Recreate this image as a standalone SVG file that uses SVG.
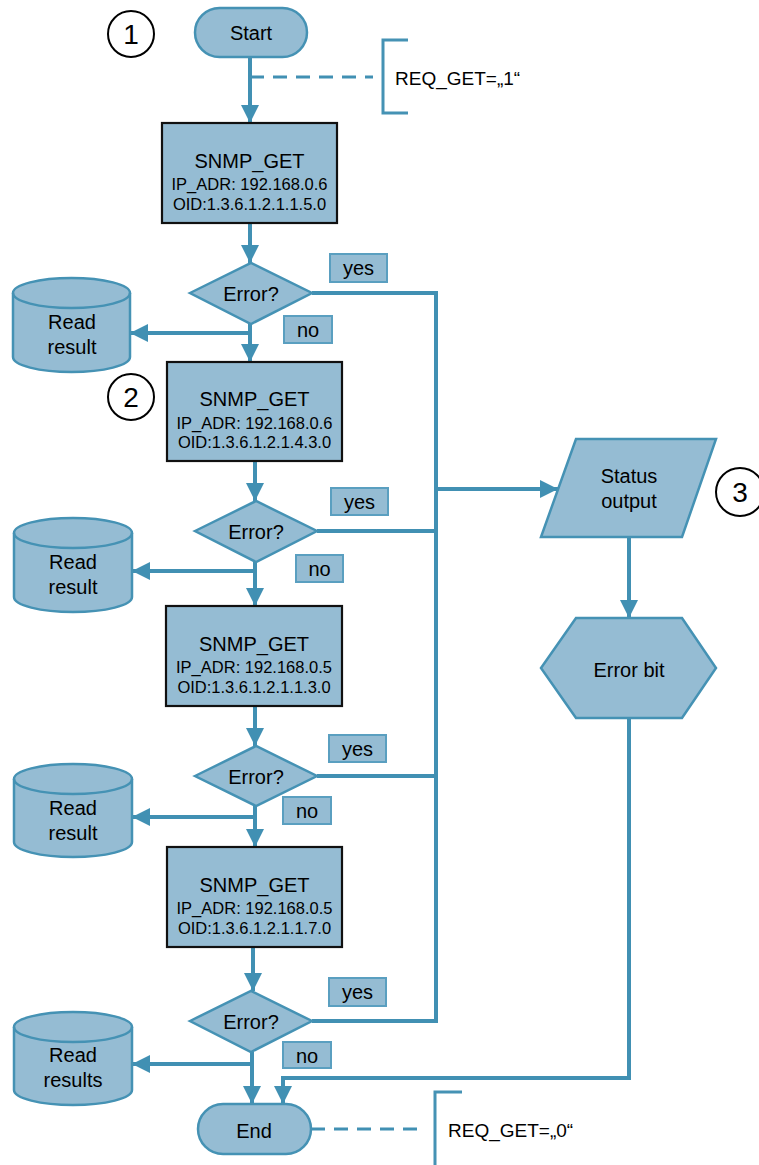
<svg xmlns="http://www.w3.org/2000/svg" width="759" height="1165" viewBox="0 0 759 1165">
<style>
text{font-family:"Liberation Sans",Arial,sans-serif;fill:#000;text-anchor:middle}
.t20{font-size:20px}
.t16{font-size:16.5px}
.num{font-size:28px}
.shape{fill:#95bcd3;stroke:#4592b4;stroke-width:2.5}
.box{fill:#95bcd3;stroke:#111;stroke-width:2.2}
.lbl{fill:#95bcd3;stroke:#5a9fc0;stroke-width:2}
.conn{fill:none;stroke:#4190b3;stroke-width:4}
.arr{fill:none;stroke:#4190b3;stroke-width:4;marker-end:url(#ah)}
.dash{fill:none;stroke:#4190b3;stroke-width:3;stroke-dasharray:14 9}
.brk{fill:none;stroke:#4592b4;stroke-width:3}
.circ{fill:#fff;stroke:#000;stroke-width:2}
</style>
<defs>
<marker id="ah" markerUnits="userSpaceOnUse" markerWidth="20" markerHeight="20" refX="18" refY="9" orient="auto" viewBox="0 0 20 20">
<path d="M0,0 L18,9 L0,18 Z" fill="#4190b3"/>
</marker>
</defs>

<g id="connectors">
<path class="arr" d="M250,57 V123"/>
<path class="dash" d="M250,77 H373"/>
<path class="arr" d="M250,223 V263"/>
<path class="conn" d="M312,293 H436 V1021 H312"/>
<path class="conn" d="M317,531 H436"/>
<path class="conn" d="M317,776 H436"/>
<path class="arr" d="M436,489 H558"/>
<path class="arr" d="M250,324 V362"/>
<path class="arr" d="M250,333 H130"/>
<path class="arr" d="M255,461 V501"/>
<path class="arr" d="M255,562 V606"/>
<path class="arr" d="M255,571 H132"/>
<path class="arr" d="M255,706 V746"/>
<path class="arr" d="M255,806 V847"/>
<path class="arr" d="M255,817 H132"/>
<path class="arr" d="M253,947 V991"/>
<path class="arr" d="M252,1052 V1104"/>
<path class="arr" d="M252,1064 H132"/>
<path class="arr" d="M629,537 V618"/>
<path class="arr" d="M629,718 V1078 H283 V1104"/>
<path class="dash" d="M311,1129 H426"/>
</g>

<g id="marker1">
<circle class="circ" cx="131" cy="34" r="23"/>
<text class="num" x="131" y="44">1</text>
</g>

<g id="start">
<rect class="shape" x="195" y="8" width="112" height="49" rx="24.5"/>
<text class="t20" x="251" y="40">Start</text>
</g>

<g id="note1">
<path class="brk" d="M408,40 H383 V113 H408"/>
<text x="395" y="85" style="font-size:19px;text-anchor:start">REQ_GET=„1“</text>
</g>

<g id="get1">
<rect class="box" x="162" y="123" width="175" height="100"/>
<text class="t20" x="249.5" y="168">SNMP_GET</text>
<text class="t16" x="249.5" y="190">IP_ADR: 192.168.0.6</text>
<text class="t16" x="249.5" y="210">OID:1.3.6.1.2.1.1.5.0</text>
</g>

<g id="dec1">
<polygon class="shape" points="190,293 251,263 312,293 251,324"/>
<text class="t20" x="251" y="301">Error?</text>
</g>
<g id="yes1"><rect class="lbl" x="330" y="254" width="57" height="28"/><text class="t20" x="358.5" y="275">yes</text></g>
<g id="no1"><rect class="lbl" x="284" y="316" width="48" height="27"/><text class="t20" x="308" y="337">no</text></g>

<g id="read1">
<path class="shape" d="M13,293 A58.5,15 0 0 1 130,293 V357 A58.5,15 0 0 1 13,357 Z"/>
<path class="shape" style="fill:none" d="M13,293 A58.5,15 0 0 0 130,293"/>
<text class="t20" x="72" y="329">Read</text>
<text class="t20" x="72" y="354">result</text>
</g>

<g id="marker2">
<circle class="circ" cx="131" cy="397" r="23"/>
<text class="num" x="131" y="407">2</text>
</g>

<g id="get2">
<rect class="box" x="167" y="362" width="175" height="99"/>
<text class="t20" x="254.5" y="406">SNMP_GET</text>
<text class="t16" x="254.5" y="429">IP_ADR: 192.168.0.6</text>
<text class="t16" x="254.5" y="448">OID:1.3.6.1.2.1.4.3.0</text>
</g>

<g id="dec2">
<polygon class="shape" points="195,531 256,501 317,531 256,562"/>
<text class="t20" x="256" y="539">Error?</text>
</g>
<g id="yes2"><rect class="lbl" x="331" y="488" width="57" height="27"/><text class="t20" x="359.5" y="509">yes</text></g>
<g id="no2"><rect class="lbl" x="296" y="555" width="47" height="27"/><text class="t20" x="319.5" y="576">no</text></g>

<g id="read2">
<path class="shape" d="M14,533 A59,15 0 0 1 132,533 V597 A59,15 0 0 1 14,597 Z"/>
<path class="shape" style="fill:none" d="M14,533 A59,15 0 0 0 132,533"/>
<text class="t20" x="73" y="569">Read</text>
<text class="t20" x="73" y="594">result</text>
</g>

<g id="get3">
<rect class="box" x="166" y="606" width="176" height="100"/>
<text class="t20" x="254" y="651">SNMP_GET</text>
<text class="t16" x="254" y="673">IP_ADR: 192.168.0.5</text>
<text class="t16" x="254" y="693">OID:1.3.6.1.2.1.1.3.0</text>
</g>

<g id="dec3">
<polygon class="shape" points="195,776 256,746 317,776 256,806"/>
<text class="t20" x="256" y="784">Error?</text>
</g>
<g id="yes3"><rect class="lbl" x="329" y="735" width="57" height="27"/><text class="t20" x="357.5" y="756">yes</text></g>
<g id="no3"><rect class="lbl" x="283" y="797" width="48" height="27"/><text class="t20" x="307" y="818">no</text></g>

<g id="read3">
<path class="shape" d="M14,779 A59,15 0 0 1 132,779 V842 A59,15 0 0 1 14,842 Z"/>
<path class="shape" style="fill:none" d="M14,779 A59,15 0 0 0 132,779"/>
<text class="t20" x="73" y="815">Read</text>
<text class="t20" x="73" y="840">result</text>
</g>

<g id="get4">
<rect class="box" x="167" y="847" width="175" height="100"/>
<text class="t20" x="254.5" y="892">SNMP_GET</text>
<text class="t16" x="254.5" y="914">IP_ADR: 192.168.0.5</text>
<text class="t16" x="254.5" y="934">OID:1.3.6.1.2.1.1.7.0</text>
</g>

<g id="dec4">
<polygon class="shape" points="190,1021 251,991 312,1021 251,1052"/>
<text class="t20" x="251" y="1029">Error?</text>
</g>
<g id="yes4"><rect class="lbl" x="329" y="978" width="57" height="28"/><text class="t20" x="357.5" y="999">yes</text></g>
<g id="no4"><rect class="lbl" x="283" y="1042" width="48" height="26"/><text class="t20" x="307" y="1063">no</text></g>

<g id="read4">
<path class="shape" d="M14,1027 A59,15 0 0 1 132,1027 V1090 A59,15 0 0 1 14,1090 Z"/>
<path class="shape" style="fill:none" d="M14,1027 A59,15 0 0 0 132,1027"/>
<text class="t20" x="73" y="1062">Read</text>
<text class="t20" x="73" y="1087">results</text>
</g>

<g id="end">
<rect class="shape" x="198" y="1104" width="113" height="50" rx="25"/>
<text class="t20" x="254" y="1138">End</text>
</g>

<g id="note2">
<path class="brk" d="M462,1092 H435 V1165"/>
<text x="448" y="1137" style="font-size:19px;text-anchor:start">REQ_GET=„0“</text>
</g>

<g id="status">
<polygon class="shape" points="576,439 716,439 682,537 541,537"/>
<text class="t20" x="629" y="483">Status</text>
<text class="t20" x="629" y="508">output</text>
</g>

<g id="marker3">
<circle class="circ" cx="740" cy="492" r="24"/>
<text class="num" x="740" y="502">3</text>
</g>

<g id="errorbit">
<polygon class="shape" points="576,618 682,618 716,668 682,718 576,718 541,668"/>
<text class="t20" x="629" y="677">Error bit</text>
</g>
</svg>
